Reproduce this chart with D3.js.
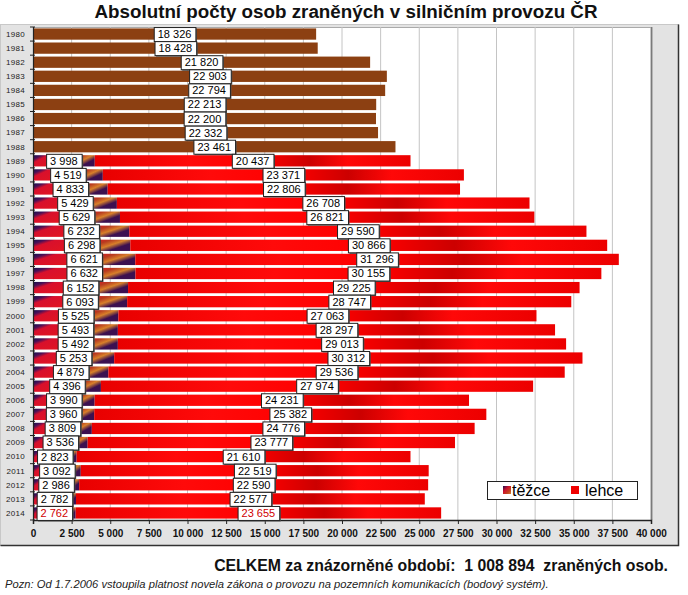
<!DOCTYPE html>
<html><head><meta charset="utf-8">
<script src="https://cdn.jsdelivr.net/npm/d3@7"></script>
<style>body{margin:0;background:#fff}svg{display:block}</style>
</head><body>
<script>
const years = d3.range(1980, 2015).map(String);
const totalEarly = [18326, 18428, 21820, 22903, 22794, 22213, 22200, 22332, 23461]; // 1980-1988
const severe = [null,null,null,null,null,null,null,null,null,
  3998,4519,4833,5429,5629,6232,6298,6621,6632,6152,6093,5525,5493,5492,5253,4879,4396,3990,3960,3809,3536,2823,3092,2986,2782,2762];
const light = [null,null,null,null,null,null,null,null,null,
  20437,23371,22806,26708,26821,29590,30866,31296,30155,29225,28747,27063,28297,29013,30312,29536,27974,24231,25382,24776,23777,21610,22519,22590,22577,23655];
const xTicks = d3.range(0, 40001, 2500);
const title = "Absolutní počty osob zraněných v silničním provozu ČR";
const totalText = "CELKEM za znázorněné období:  1 008 894  zraněných osob.";
const noteText = "Pozn: Od 1.7.2006 vstoupila platnost novela zákona o provozu na pozemních komunikacích (bodový systém).";
const legendItems = ["těžce", "lehce"];

const W = 688, H = 595;
const svg = d3.select("body").append("svg").attr("width", W).attr("height", H)
  .style("font-family", "'Liberation Sans', Arial, sans-serif");
const defs = svg.append("defs");

const gSev = defs.append("linearGradient").attr("id", "gSev")
  .attr("x1", 0).attr("y1", 0).attr("x2", 1).attr("y2", 0.35);
[[0,"#14104a"],[0.12,"#4a1058"],[0.22,"#d8102c"],[0.55,"#e01422"],[0.72,"#b83a20"],[0.86,"#d8802a"],[1,"#3c1050"]]
  .forEach(s => gSev.append("stop").attr("offset", s[0]).attr("stop-color", s[1]));
const gSevL = defs.append("linearGradient").attr("id", "gSevL")
  .attr("x1", 0).attr("y1", 0).attr("x2", 1).attr("y2", 1);
[[0,"#1a1050"],[0.4,"#d0102a"],[0.7,"#c04020"],[1,"#d8802a"]]
  .forEach(s => gSevL.append("stop").attr("offset", s[0]).attr("stop-color", s[1]));
const gLight = defs.append("linearGradient").attr("id", "gLight")
  .attr("x1", 0).attr("y1", 0).attr("x2", 1).attr("y2", 0);
[[0,"#e80000"],[0.3,"#ff0a0a"],[0.52,"#ff0000"],[0.68,"#cc0000"],[0.8,"#ff0808"],[1,"#ec0000"]]
  .forEach(s => gLight.append("stop").attr("offset", s[0]).attr("stop-color", s[1]));

// outer frame
svg.append("rect").attr("x", 0.5).attr("y", 24.5).attr("width", 678).attr("height", 521)
  .attr("fill", "#e3e3e3").attr("stroke", "#c8c8c8");
svg.append("path").attr("d", "M678.5,24.5V545.5H0.5").attr("fill", "none").attr("stroke", "#333").attr("stroke-width", 1.5);

const pl = 33, pr = 651, pt = 27, pb = 520;
svg.append("rect").attr("x", pl).attr("y", pt).attr("width", pr - pl).attr("height", pb - pt).attr("fill", "#fff");
svg.append("path").attr("d", `M${pl},${pt+0.5}H${pr+0.5}`).attr("stroke", "#aaa");
svg.append("path").attr("d", `M${pr+0.5},${pt}V${pb}`).attr("stroke", "#333").attr("stroke-width", 1.5);

const x = d3.scaleLinear().domain([0, 40000]).range([pl, pr]);
const y = d3.scaleBand().domain(years).range([pt, pb]).paddingInner(0.2).paddingOuter(0.1);

// gridlines
svg.append("g").selectAll("line").data(xTicks.slice(1)).join("line")
  .attr("x1", d => x(d)).attr("x2", d => x(d)).attr("y1", pt).attr("y2", pb)
  .attr("stroke", "#c4c4c4").attr("stroke-width", 1);

// bars
const rows = years.map((yr, i) => ({yr, i, tot: i < 9 ? totalEarly[i] : null, sev: severe[i], lig: light[i]}));
const bars = svg.append("g");
rows.filter(r => r.tot != null).forEach(r => {
  bars.append("rect").attr("x", x(0)).attr("y", y(r.yr)).attr("width", x(r.tot) - x(0)).attr("height", y.bandwidth())
    .attr("fill", "#8c4012");
});
rows.filter(r => r.sev != null).forEach(r => {
  bars.append("rect").attr("x", x(0)).attr("y", y(r.yr)).attr("width", x(r.sev) - x(0)).attr("height", y.bandwidth())
    .attr("fill", "url(#gSev)");
  bars.append("rect").attr("x", x(r.sev)).attr("y", y(r.yr)).attr("width", x(r.sev + r.lig) - x(r.sev)).attr("height", y.bandwidth())
    .attr("fill", "url(#gLight)");
});

// axes
const xAxis = svg.append("g").attr("transform", `translate(0,${pb})`)
  .call(d3.axisBottom(x).tickValues(xTicks).tickSize(4).tickFormat(d => d3.format(",")(d).replace(/,/g, " ")));
xAxis.select(".domain").attr("stroke", "#222").attr("stroke-width", 1.5);
xAxis.selectAll("line").attr("stroke", "#222");
xAxis.selectAll("text").attr("font-size", 10).attr("font-weight", "bold").attr("fill", "#111")
  .attr("font-family", "'Liberation Sans', Arial, sans-serif").attr("dy", "0.95em");

const yAxis = svg.append("g").attr("transform", `translate(${pl},0)`);
yAxis.append("line").attr("x1", 0.5).attr("x2", 0.5).attr("y1", pt).attr("y2", pb).attr("stroke", "#222").attr("stroke-width", 1.2);
yAxis.selectAll(".tk").data(d3.range(0, years.length + 1)).join("line")
  .attr("x1", -3).attr("x2", 2).attr("y1", d => pt + d * (pb - pt) / years.length).attr("y2", d => pt + d * (pb - pt) / years.length)
  .attr("stroke", "#222");
yAxis.selectAll("text").data(years).join("text")
  .attr("x", -8).attr("y", d => y(d) + y.bandwidth() / 2).attr("dy", "0.35em")
  .attr("text-anchor", "end").attr("font-size", 8).attr("fill", "#222").attr("letter-spacing", 0.3)
  .text(d => d);

// labels
function label(cx, cy, txt, color) {
  const g = svg.append("g");
  const t = g.append("text").attr("x", cx).attr("y", cy).attr("dy", "0.36em").attr("text-anchor", "middle")
    .attr("font-size", 11).attr("fill", color || "#000").text(txt);
  const w = t.node().getComputedTextLength() + 8, h = 14;
  g.insert("rect", "text").attr("x", cx - w / 2 + 1.5).attr("y", cy - h / 2 + 1.5).attr("width", w).attr("height", h).attr("fill", "#555");
  g.insert("rect", "text").attr("x", cx - w / 2 + 0.5).attr("y", cy - h / 2 + 0.5).attr("width", w).attr("height", h)
    .attr("fill", "#fff").attr("stroke", "#222").attr("stroke-width", 1);
}
const fmt = v => d3.format(",")(v).replace(/,/g, " ");
rows.forEach(r => {
  const cy = y(r.yr) + y.bandwidth() / 2;
  const col = r.yr === "2014" ? "#d00000" : "#000";
  if (r.tot != null) label(x(r.tot / 2), cy, fmt(r.tot));
  if (r.sev != null) {
    label(x(r.sev / 2), cy, fmt(r.sev), col);
    label(x(r.sev + r.lig / 2), cy, fmt(r.lig), col);
  }
});

// legend
const lg = svg.append("g").attr("transform", "translate(487,481)");
lg.append("rect").attr("x", 0.5).attr("y", 0.5).attr("width", 150).attr("height", 18).attr("fill", "#fff").attr("stroke", "#222");
lg.append("rect").attr("x", 16).attr("y", 5).attr("width", 8).attr("height", 8).attr("fill", "url(#gSevL)");
lg.append("text").attr("x", 25).attr("y", 9.5).attr("dy", "0.36em").attr("font-size", 16).text(legendItems[0]);
lg.append("rect").attr("x", 84).attr("y", 5).attr("width", 8).attr("height", 8).attr("fill", "#f00000");
lg.append("text").attr("x", 98).attr("y", 9.5).attr("dy", "0.36em").attr("font-size", 16).text(legendItems[1]);

// texts
svg.append("text").attr("x", 346).attr("y", 18).attr("text-anchor", "middle").attr("font-size", 18.8)
  .attr("font-weight", "bold").attr("fill", "#111").text(title);
svg.append("text").attr("x", 668).attr("y", 571).attr("text-anchor", "end").attr("font-size", 15.8)
  .attr("font-weight", "bold").attr("fill", "#111").style("white-space", "pre").text(totalText);
svg.append("text").attr("x", 5).attr("y", 588).attr("font-size", 11.2).attr("font-style", "italic")
  .attr("fill", "#222").text(noteText);
</script>
</body></html>
